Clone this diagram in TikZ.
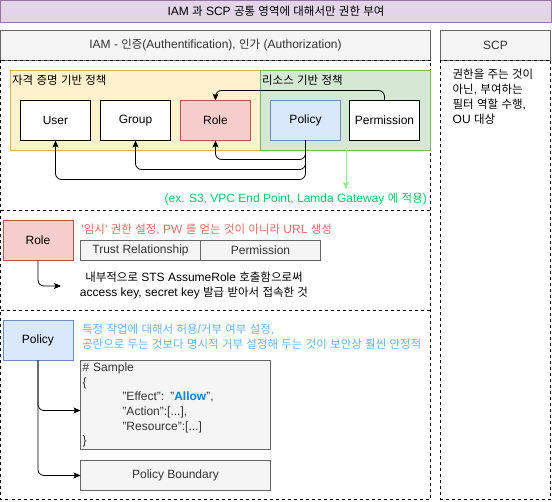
\documentclass[tikz,border=0pt]{standalone}
\usepackage{fontspec}
\setmainfont{Liberation Sans}
\newfontfamily\krfont[Scale=0.955]{Noto Sans CJK KR}
\usetikzlibrary{arrows.meta}

% Hangul syllables are set in the CJK font
\XeTeXinterchartokenstate=1
\newXeTeXintercharclass\hangulclass
\newcount\hcode
\hcode="AC00
\loop\ifnum\hcode<"D7A4
  \XeTeXcharclass\hcode=\hangulclass
  \advance\hcode by 1
\repeat
\XeTeXinterchartoks 0 \hangulclass = {\begingroup\krfont}
\XeTeXinterchartoks 4095 \hangulclass = {\begingroup\krfont}
\XeTeXinterchartoks \hangulclass 0 = {\endgroup}
\XeTeXinterchartoks \hangulclass 4095 = {\endgroup}

\definecolor{cTitleFill}{HTML}{E1D5E7}
\definecolor{cTitleLine}{HTML}{9673A6}
\definecolor{cHeadFill}{HTML}{F5F5F5}
\definecolor{cHeadLine}{HTML}{666666}
\definecolor{cHeadText}{HTML}{333333}
\definecolor{cCredFill}{HTML}{FFF2CC}
\definecolor{cCredLine}{HTML}{D6B656}
\definecolor{cResFill}{HTML}{D5E8D4}
\definecolor{cResLine}{HTML}{82B366}
\definecolor{cRoleFill}{HTML}{F8CECC}
\definecolor{cRoleLine}{HTML}{B85450}
\definecolor{cPolFill}{HTML}{DAE8FC}
\definecolor{cPolLine}{HTML}{6C8EBF}
\definecolor{cRedText}{HTML}{EA6B66}
\definecolor{cBlueText}{HTML}{66B2FF}
\definecolor{cGreenText}{HTML}{00CC66}
\definecolor{cGreenLink}{HTML}{8AF08A}
\definecolor{cAllow}{HTML}{007FFF}

\tikzset{
  box/.style={draw, line width=0.8pt, inner sep=0pt, outer sep=0pt,
    minimum width=70, minimum height=40},
  titlebox/.style={box, draw=cTitleLine, fill=cTitleFill},
  headbox/.style={box, draw=cHeadLine, fill=cHeadFill, text=cHeadText, minimum height=30},
  cell/.style={box, draw=cHeadLine, fill=cHeadFill, text=cHeadText},
  plainbox/.style={box, fill=white},
  rolebox/.style={box, draw=cRoleLine, fill=cRoleFill},
  policybox/.style={box, draw=cPolLine, fill=cPolFill},
  zone/.style={draw, line width=0.8pt, dash pattern=on 3pt off 3pt},
  link/.style={draw, line width=0.8pt, rounded corners=6pt,
    -{Stealth[length=7pt,width=6pt,inset=1.5pt]}},
  greenlink/.style={draw=cGreenLink, line width=0.8pt,
    -{Stealth[length=7pt,width=6pt,inset=1.5pt]}},
  note/.style={anchor=west, inner sep=0pt, align=left}
}

\begin{document}
\begin{tikzpicture}[x=1pt, y=-1pt, font=\fontsize{12}{15}\selectfont]
  \useasboundingbox (0,0) rectangle (552,502);

  % Title bar
  \node[titlebox, minimum width=551, minimum height=22] (title) at (276,11.5)
    {IAM 과 SCP 공통 영역에 대해서만 권한 부여};

  % Headers
  \node[headbox, minimum width=430] (iamhead) at (215.5,45.5)
    {IAM - 인증(Authentification), 인가 (Authorization)};
  \node[headbox, minimum width=110] (scphead) at (495.5,45.5) {SCP};

  % Dashed regions
  \draw[zone] (0.5,60.5) rectangle (430.5,499.5);
  \draw[zone] (0.5,210.5) -- (430.5,210.5);
  \draw[zone] (0.5,310.5) -- (430.5,310.5);
  \draw[zone] (440.5,60.5) rectangle (550.5,499.5);

  % SCP text
  \node[note, anchor=north west] (scpnote) at (452.5,69)
    {권한을 주는 것이\\아닌, 부여하는\\필터 역할 수행,\\OU 대상};

  % Credential and resource zones
  \node[box, draw=cCredLine, fill=cCredFill, minimum width=250, minimum height=80] (credzone) at (135.5,110.5) {};
  \node[box, draw=cResLine, fill=cResFill, minimum width=170, minimum height=80] (reszone) at (345.5,110.5) {};
  \node[note] (credlabel) at (12,80.5) {자격 증명 기반 정책};
  \node[note] (reslabel) at (262,80.5) {리소스 기반 정책};

  % Identity and resource boxes
  \node[plainbox] (user) at (55.5,120.5) {User};
  \node[plainbox] (group) at (135.5,120.5) {Group};
  \node[rolebox] (role) at (215.5,120.5) {Role};
  \node[policybox] (policy) at (305.5,120.5) {Policy};
  \node[plainbox] (permission) at (384.5,120.5) {Permission};

  % Links between them
  \draw[link] (permission.north) -- ++(0,-10) -| (role.north);
  \draw[link] (policy.south) -- ++(0,19) -| (role.south);
  \draw[link] (policy.south) -- ++(0,29) -| (group.south);
  \draw[link] (policy.south) -- ++(0,39) -| (user.south);

  % Resource policy usage
  \coordinate (applyend) at (346,189);
  \draw[greenlink] (reszone.south -| applyend) -- (applyend);
  \node[anchor=east, inner sep=0pt, text=cGreenText] (apply) at (427,199.5)
    {(ex. S3, VPC End Point, Lamda Gateway 에 적용)};

  % Role section
  \node[rolebox] (roleb) at (38,240.5) {Role};
  \node[note, text=cRedText] (rolenote) at (81,230)
    {'임시' 권한 설정, PW 를 얻는 것이 아니라 URL 생성};
  \node[cell, minimum width=120, minimum height=20] (trust) at (140.5,250.5) {Trust Relationship};
  \node[cell, minimum width=120, minimum height=20] (rolepermission) at (260.5,250.5) {Permission};
  \coordinate (stsend) at (61,286);
  \draw[link] (roleb.south) |- (stsend);
  \node[align=center, inner sep=0pt] (sts) at (194,285.5)
    {내부적으로 STS AssumeRole 호출함으로써\\access key, secret key 발급 받아서 접속한 것};

  % Policy section
  \node[policybox] (policyb) at (38,340.5) {Policy};
  \node[note, text=cBlueText] (policynote) at (82,337)
    {특정 작업에 대해서 허용/거부 여부 설정,\\공란으로 두는 것보다 명시적 거부 설정해 두는 것이 보안상 훨씬 안정적};
  \node[cell, anchor=north west, minimum width=190, minimum height=89,
    text width=186, inner sep=2pt, align=left,
    font=\fontsize{12}{14.6}\selectfont] (sample) at (80.5,360.5)
    {\# Sample\\
     \{\\
     \hspace*{40pt}"Effect": "\textbf{\color{cAllow}Allow}",\\
     \hspace*{40pt}"Action":[...],\\
     \hspace*{40pt}"Resource":[...]\\
     \}};
  \node[cell, minimum width=190, minimum height=30] (boundary) at (175.5,475.5) {Policy Boundary};
  \draw[link] (policyb.south) |- ([yshift=-5.5pt]sample.west);
  \draw[link] (policyb.south) |- (boundary.west);
\end{tikzpicture}
\end{document}
